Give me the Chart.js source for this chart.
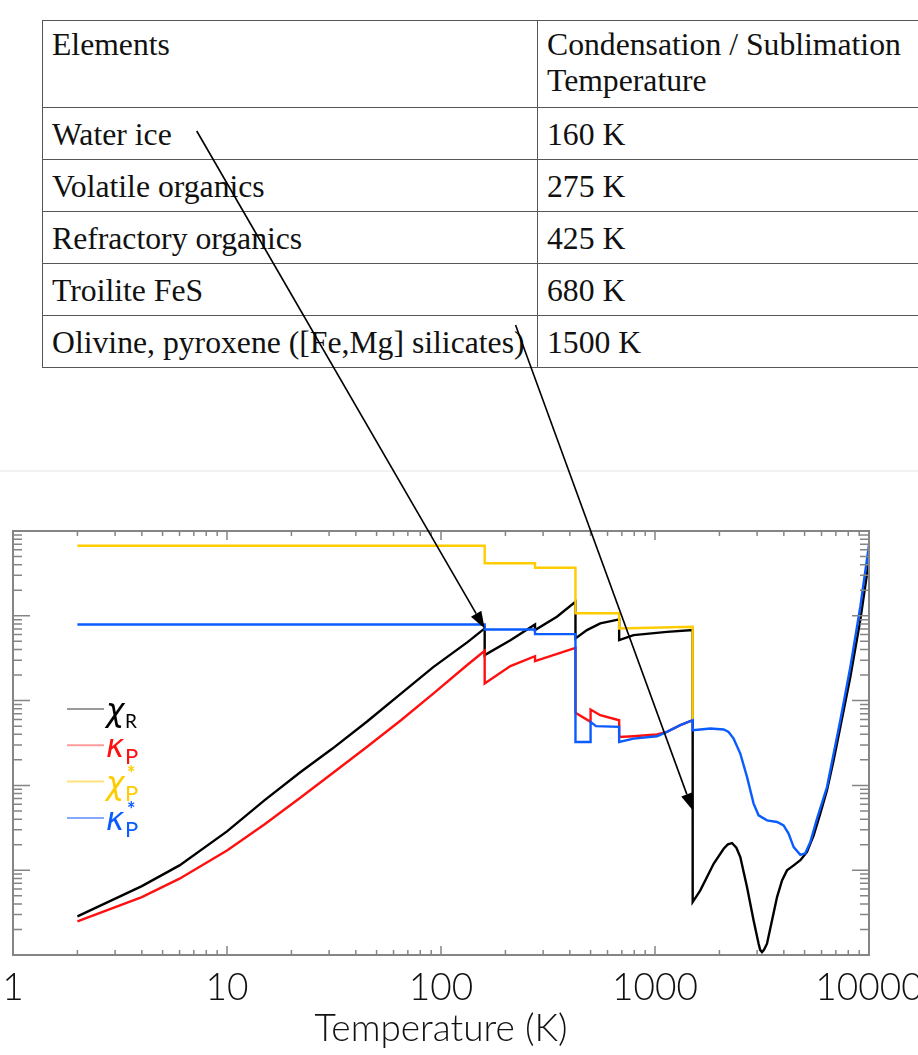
<!DOCTYPE html>
<html>
<head>
<meta charset="utf-8">
<script src="https://cdn.jsdelivr.net/npm/chart.js@4.4.1/dist/chart.umd.min.js"></script>
<style>
  html, body { margin: 0; padding: 0; background: #fff; }
  body { width: 918px; height: 1055px; position: relative; overflow: hidden; }
  #tbl { position: absolute; left: 42px; top: 20px; width: 930px; table-layout: fixed; border-collapse: collapse;
         font-family: 'Liberation Serif', 'Times New Roman', serif; font-size: 31.7px; color: #111; }
  #tbl td { border: 1.5px solid #555; padding: 3px 9px 0 9px; line-height: 36px;
            vertical-align: middle; height: 48px; white-space: nowrap; overflow: visible; }
  #tbl tr.head td { vertical-align: top; height: 80px; padding-top: 6px; }
  #sep { position: absolute; left: 0; top: 470px; width: 918px; border-top: 2px solid #f1f1f1; }
  #plot { position: absolute; left: 0; top: 480px; }
  #arrows { position: absolute; left: 0; top: 0; pointer-events: none; }
</style>
</head>
<body>
<table id="tbl"><colgroup><col style="width:495px"><col style="width:435px"></colgroup></table>
<div id="sep"></div>
<canvas id="plot" width="918" height="575"></canvas>
<canvas id="arrows" width="918" height="1055"></canvas>
<script>
// condensation table
const elementNames = ['Water ice', 'Volatile organics', 'Refractory organics', 'Troilite FeS',
                      'Olivine, pyroxene ([Fe,Mg] silicates)'];
const condensationTemps = [160, 275, 425, 680, 1500];

// Rosseland mean chi_R
const tempChiR = [2, 4, 6, 10, 15, 22, 31, 45, 65, 92, 133, 160, 160, 211, 275, 275, 348, 425, 425, 481,
                  555, 680, 680, 794, 1137, 1500, 1500, 1628, 1750, 1879, 2093, 2190, 2290, 2400, 2504, 2691,
                  2889, 3049, 3100, 3162, 3230, 3337, 3521, 3718, 3923, 4137, 4447, 4777, 5132, 5514, 5918,
                  6363, 6834, 7345, 8182, 9106, 10000];
const chiR = [2.85e-3, 6.49e-3, 1.14e-2, 2.87e-2, 6.70e-2, 0.143, 0.270, 0.564, 1.21, 2.48, 4.89, 7.10, 3.44,
              5.16, 7.91, 6.78, 9.73, 14.6, 5.41, 6.78, 8.13, 9.06, 5.16, 5.92, 6.47, 6.78, 4.21e-3, 5.78e-3,
              8.30e-3, 1.19e-2, 1.79e-2, 2.02e-2, 2.09e-2, 1.84e-2, 1.43e-2, 6.32e-3, 2.55e-3, 1.36e-3, 1.15e-3,
              1.08e-3, 1.15e-3, 1.36e-3, 2.55e-3, 4.82e-3, 7.59e-3, 9.95e-3, 1.14e-2, 1.31e-2, 1.64e-2, 2.58e-2,
              4.65e-2, 8.75e-2, 0.198, 0.489, 1.91, 8.89, 45.5];

// Planck mean kappa_P
const tempKappaP = [2, 4, 6, 10, 15, 22, 31, 45, 65, 92, 133, 160, 160, 211, 275, 275, 425, 425, 500, 500,
                    555, 680, 680, 794, 1021, 1137, 1313, 1500];
const kappaP = [2.49e-3, 4.82e-3, 7.94e-3, 1.71e-2, 3.49e-2, 7.15e-2, 0.138, 0.284, 0.587, 1.21, 2.65, 3.86,
                1.59, 2.55, 3.34, 2.92, 4.19, 0.718, 0.561, 0.785, 0.673, 0.587, 0.372, 0.380, 0.398, 0.428,
                0.513, 0.587];

// chi_P* (stellar Planck mean)
const tempChiPStar = [2, 160, 160, 275, 275, 425, 425, 680, 680, 1500, 1500];
const chiPStar = [67.1, 67.1, 41.6, 41.6, 36.9, 36.9, 10.7, 10.7, 7.10, 7.41, 0.587];

// kappa_P*
const tempKappaPStar = [2, 160, 160, 275, 275, 425, 425, 500, 500, 530, 680, 680, 794, 1021, 1137, 1313, 1500,
                        1500, 1628, 1813, 2093, 2208, 2330, 2504, 2691, 2889, 3049, 3337, 3718, 3990, 4209,
                        4447, 4777, 5037, 5318, 5716, 6363, 6834, 7345, 8182, 9106, 10000];
const kappaPStar = [7.91, 7.91, 6.90, 6.90, 6.08, 6.08, 0.325, 0.325, 0.561, 0.500, 0.490, 0.325, 0.356, 0.380,
                    0.428, 0.513, 0.587, 0.448, 0.457, 0.468, 0.457, 0.427, 0.356, 0.237, 0.126, 0.061, 0.0444,
                    0.0387, 0.0370, 0.0338, 0.0270, 0.0187, 0.0152, 0.0158, 0.0215, 0.0406, 0.0957, 0.237,
                    0.587, 2.50, 12.8, 68.4];

const xDecades = [1, 10, 100, 1000, 10000];

// legend text
const legendSymbols = ['χ', 'κ', 'χ', 'κ'];
const legendSubs = ['R', 'P', 'P', 'P'];
const legendStars = [false, false, true, true];

// arrows from table rows to the curves
const arrowRows = [0, 4];
const arrowLevels = [7.10, 0.0508];

const axisFont = "Lato, 'DejaVu Sans', sans-serif";

// build the table
const tbl = document.getElementById('tbl');
const head = tbl.insertRow();
head.className = 'head';
head.innerHTML = '<td>Elements</td><td>Condensation / Sublimation<br>Temperature</td>';
elementNames.forEach((name, i) => {
    const row = tbl.insertRow();
    row.innerHTML = '<td><span id="lbl' + i + '">' + name + '</span></td>' +
                    '<td>' + condensationTemps[i] + ' K</td>';
});

function toPoints(xs, ys) {
    return xs.map((t, i) => ({ x: t, y: ys[i] }));
}

// frame with inward ticks on all four sides, IDL style
const frameTicks = {
    id: 'frameTicks',
    afterDatasetsDraw(chart) {
        const { ctx, chartArea: a, scales: { x, y } } = chart;
        ctx.save();
        ctx.strokeStyle = '#858585';
        ctx.lineWidth = 2;
        ctx.strokeRect(a.left, a.top, a.right - a.left, a.bottom - a.top);
        ctx.lineWidth = 1.5;
        ctx.beginPath();
        for (let d = 0; d <= 4; d++) {
            for (let m = 1; m <= 9; m++) {
                const v = m * Math.pow(10, d);
                if (v > x.max) break;
                const px = x.getPixelForValue(v);
                const len = m === 1 ? 9 : 5;
                ctx.moveTo(px, a.bottom); ctx.lineTo(px, a.bottom - len);
                ctx.moveTo(px, a.top); ctx.lineTo(px, a.top + len);
            }
        }
        for (let d = -3; d <= 2; d++) {
            for (let m = 1; m <= 9; m++) {
                const v = m * Math.pow(10, d);
                if (v > y.max * 1.0001) break;
                const py = y.getPixelForValue(v);
                const len = m === 1 ? 17 : 9;
                ctx.moveTo(a.left, py); ctx.lineTo(a.left + len, py);
                ctx.moveTo(a.right, py); ctx.lineTo(a.right - len, py);
            }
        }
        ctx.stroke();
        ctx.restore();
    }
};

// legend with greek symbols and subscripts
const symbolLegend = {
    id: 'symbolLegend',
    afterDraw(chart) {
        const { ctx, chartArea: a } = chart;
        const lineColors = ['#9a9a9a', '#ff9c9c', '#ffe27c', '#85a9ff'];
        const x0 = a.left + 54;
        const y0 = a.top + 178;
        ctx.save();
        chart.data.datasets.forEach((ds, i) => {
            const ly = y0 + i * 36.3;
            ctx.strokeStyle = lineColors[i];
            ctx.lineWidth = 2;
            ctx.beginPath();
            ctx.moveTo(x0, ly);
            ctx.lineTo(x0 + 37, ly);
            ctx.stroke();

            ctx.fillStyle = ds.borderColor;
            ctx.textAlign = 'left';
            ctx.textBaseline = 'alphabetic';
            ctx.font = "italic 31px 'DejaVu Sans', sans-serif";
            ctx.fillText(legendSymbols[i], x0 + 39, ly + 12);
            const subSize = legendSubs[i] === 'R' ? 19 : 22;
            ctx.font = subSize + 'px ' + axisFont;
            ctx.fillText(legendSubs[i], x0 + 58, ly + 19);
            if (legendStars[i]) {
                ctx.font = 'bold 20px ' + axisFont;
                ctx.fillText('*', x0 + 60, ly - 1);
            }
        });
        ctx.restore();
    }
};

// arrows from the table entries down to the matching temperature on the plot
const tableArrows = {
    id: 'tableArrows',
    afterDraw(chart) {
        const ov = document.getElementById('arrows');
        const g = ov.getContext('2d');
        g.clearRect(0, 0, ov.width, ov.height);
        const box = chart.canvas.getBoundingClientRect();
        const { x, y } = chart.scales;
        const startDx = [25, -9];
        const startDy = [14, 0];
        arrowRows.forEach((row, i) => {
            const r = document.getElementById('lbl' + row).getBoundingClientRect();
            const x1 = r.right + startDx[i];
            const y1 = r.top + startDy[i];
            const x2 = box.left + x.getPixelForValue(condensationTemps[row]);
            const y2 = box.top + y.getPixelForValue(arrowLevels[i]);
            const ang = Math.atan2(y2 - y1, x2 - x1);
            const headLen = 17, headHalf = 6;
            g.strokeStyle = '#000';
            g.fillStyle = '#000';
            g.lineWidth = 1.6;
            g.beginPath();
            g.moveTo(x1, y1);
            g.lineTo(x2 - headLen * Math.cos(ang), y2 - headLen * Math.sin(ang));
            g.stroke();
            g.beginPath();
            g.moveTo(x2, y2);
            g.lineTo(x2 - headLen * Math.cos(ang) + headHalf * Math.sin(ang),
                     y2 - headLen * Math.sin(ang) - headHalf * Math.cos(ang));
            g.lineTo(x2 - headLen * Math.cos(ang) - headHalf * Math.sin(ang),
                     y2 - headLen * Math.sin(ang) + headHalf * Math.cos(ang));
            g.closePath();
            g.fill();
        });
    }
};

const ctx = document.getElementById('plot').getContext('2d');
new Chart(ctx, {
    type: 'line',
    data: {
        datasets: [
            { label: 'chiR', data: toPoints(tempChiR, chiR), borderColor: '#000000', order: 3 },
            { label: 'kappaP', data: toPoints(tempKappaP, kappaP), borderColor: '#ff1010', order: 2 },
            { label: 'chiPStar', data: toPoints(tempChiPStar, chiPStar), borderColor: '#ffcc00', order: 1 },
            { label: 'kappaPStar', data: toPoints(tempKappaPStar, kappaPStar), borderColor: '#0a5cff', order: 0 }
        ]
    },
    options: {
        responsive: false,
        animation: false,
        devicePixelRatio: 1,
        layout: { padding: { top: 51, left: 13, right: 49, bottom: 0 } },
        plugins: { legend: { display: false }, tooltip: { enabled: false } },
        elements: {
            point: { radius: 0 },
            line: { borderWidth: 2.4, tension: 0, fill: false }
        },
        scales: {
            x: {
                type: 'logarithmic',
                min: 1,
                max: 10000,
                grid: { display: false, drawTicks: false },
                border: { display: false },
                afterBuildTicks: s => { s.ticks = xDecades.map(v => ({ value: v })); },
                afterFit: s => {
                    s.height = 100;
                    // labels may run past the plot edges, as in the original figure
                    s.paddingLeft = 0;
                    s.paddingRight = 0;
                },
                ticks: {
                    autoSkip: false,
                    maxRotation: 0,
                    padding: 11,
                    color: '#111',
                    font: { family: axisFont, size: 37, weight: 300 },
                    callback: v => String(v)
                },
                title: {
                    display: true,
                    text: 'Temperature (K)',
                    color: '#111',
                    font: { family: axisFont, size: 37, weight: 300 },
                    padding: { top: 0, bottom: 4 }
                }
            },
            y: { type: 'logarithmic', min: 1e-3, max: 1e2, display: false }
        }
    },
    plugins: [frameTicks, symbolLegend, tableArrows]
});
</script>
</body>
</html>
